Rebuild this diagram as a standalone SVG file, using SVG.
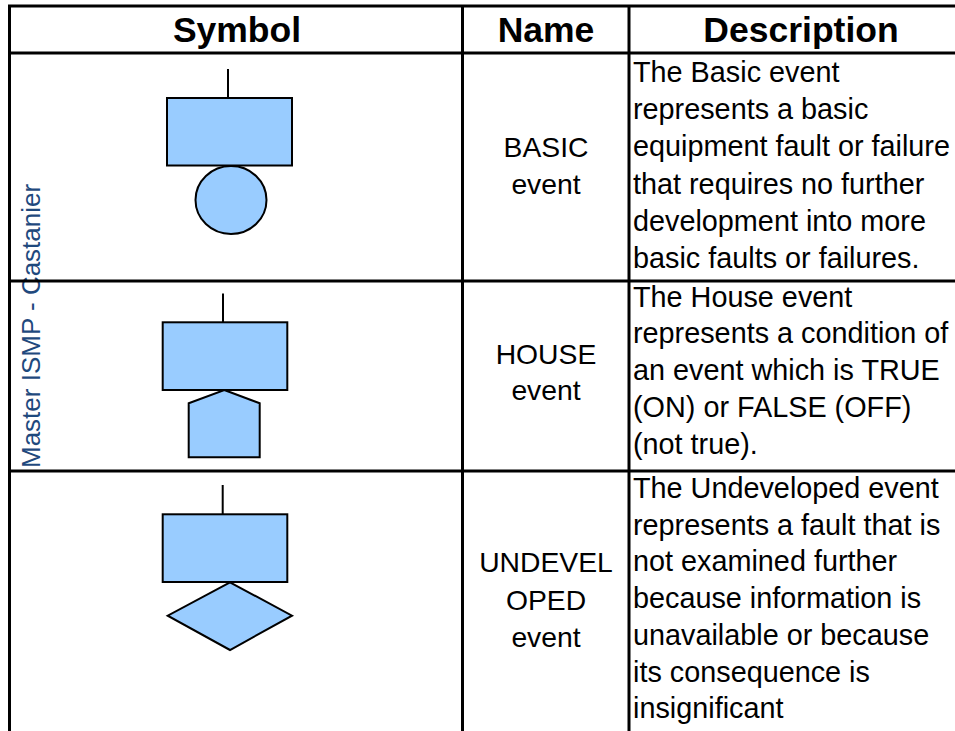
<svg xmlns="http://www.w3.org/2000/svg" width="955" height="731" viewBox="0 0 955 731">
  <style>
    .grid { stroke: #000; stroke-width: 3; fill: none; }
    .head { font-family: "Liberation Sans", Arial, sans-serif; font-weight: bold; font-size: 35.5px; fill: #000; text-anchor: middle; }
    .name { font-family: "Liberation Sans", Arial, sans-serif; font-size: 28.3px; fill: #000; text-anchor: middle; }
    .desc { font-family: "Liberation Sans", Arial, sans-serif; font-size: 28.8px; fill: #000; }
    .mark { font-family: "Liberation Sans", Arial, sans-serif; font-size: 26px; fill: #1F497D; }
    .shape { fill: #99CCFF; stroke: #000; stroke-width: 2; }
    .stem { stroke: #000; stroke-width: 2; fill: none; }
  </style>
  <rect width="955" height="731" fill="#fff"/>

  <!-- vertical side label -->
  <text class="mark" transform="translate(39.5,468) rotate(-90)">Master ISMP - Castanier</text>

  <!-- table rules -->
  <g id="connectors">
    <line class="grid" x1="8" y1="6" x2="955" y2="6"/>
    <line class="grid" x1="8" y1="53" x2="955" y2="53" stroke-width="4"/>
    <line class="grid" x1="8" y1="281" x2="955" y2="281"/>
    <line class="grid" x1="8" y1="471" x2="955" y2="471"/>
    <line class="grid" x1="9.5" y1="5" x2="9.5" y2="731"/>
    <line class="grid" x1="462.5" y1="5" x2="462.5" y2="731"/>
    <line class="grid" x1="629" y1="5" x2="629" y2="731"/>
  </g>

  <!-- header row -->
  <g id="header">
    <text class="head" x="237" y="42">Symbol</text>
    <text class="head" x="546" y="42">Name</text>
    <text class="head" x="801" y="42">Description</text>
  </g>

  <!-- basic event -->
  <g id="basic-event">
    <line class="stem" x1="228" y1="69" x2="228" y2="98"/>
    <rect class="shape" x="167" y="98" width="125" height="67.5"/>
    <ellipse class="shape" cx="231" cy="200" rx="35.5" ry="34"/>
    <text class="name" x="546" y="157">BASIC</text>
    <text class="name" x="546" y="194">event</text>
    <text class="desc">
      <tspan x="633" y="82">The Basic event</tspan>
      <tspan x="633" y="119.2">represents a basic</tspan>
      <tspan x="633" y="156.4">equipment fault or failure</tspan>
      <tspan x="633" y="193.6">that requires no further</tspan>
      <tspan x="633" y="230.8">development into more</tspan>
      <tspan x="633" y="268">basic faults or failures.</tspan>
    </text>
  </g>

  <!-- house event -->
  <g id="house-event">
    <line class="stem" x1="223" y1="293.5" x2="223" y2="322.5"/>
    <rect class="shape" x="162.7" y="322.3" width="124.6" height="67.7"/>
    <polygon class="shape" points="224.3,390 259.7,403.3 259.7,457.3 188.7,457.3 188.7,403.3"/>
    <text class="name" x="546" y="364">HOUSE</text>
    <text class="name" x="546" y="400">event</text>
    <text class="desc">
      <tspan x="633" y="306.7">The House event</tspan>
      <tspan x="633" y="343.4">represents a condition of</tspan>
      <tspan x="633" y="380.1">an event which is TRUE</tspan>
      <tspan x="633" y="416.8">(ON) or FALSE (OFF)</tspan>
      <tspan x="633" y="453.5">(not true).</tspan>
    </text>
  </g>

  <!-- undeveloped event -->
  <g id="undeveloped-event">
    <line class="stem" x1="222.7" y1="485" x2="222.7" y2="514.5"/>
    <rect class="shape" x="162.7" y="514.3" width="124.6" height="67.7"/>
    <polygon class="shape" points="230,582.3 292,615.7 230,650 167.7,615.7"/>
    <text class="name" x="546" y="572">UNDEVEL</text>
    <text class="name" x="546" y="610">OPED</text>
    <text class="name" x="546" y="647">event</text>
    <text class="desc">
      <tspan x="633" y="498">The Undeveloped event</tspan>
      <tspan x="633" y="534.7">represents a fault that is</tspan>
      <tspan x="633" y="571.4">not examined further</tspan>
      <tspan x="633" y="608.1">because information is</tspan>
      <tspan x="633" y="644.8">unavailable or because</tspan>
      <tspan x="633" y="681.5">its consequence is</tspan>
      <tspan x="633" y="718.2">insignificant</tspan>
    </text>
  </g>
</svg>
